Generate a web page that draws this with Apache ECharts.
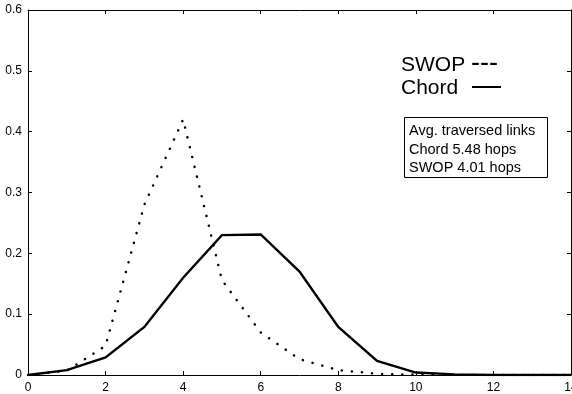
<!DOCTYPE html>
<html>
<head>
<meta charset="utf-8">
<script src="https://cdn.jsdelivr.net/npm/echarts@6/dist/echarts.min.js"></script>
<style>
  html, body { margin: 0; padding: 0; background: #fff; }
  #chart { width: 572px; height: 394px; }
</style>
</head>
<body>
<div id="chart"></div>
<script>
// Hop count (x) and fraction of lookups needing that many hops
const hops = [0, 1, 2, 3, 4, 5, 6, 7, 8, 9, 10, 11, 12, 13, 14];
const chordFraction = [0, 0.008, 0.029, 0.079, 0.160, 0.230, 0.231, 0.170, 0.079, 0.023, 0.004, 0.001, 0, 0, 0];
const swopFraction  = [0, 0.007, 0.048, 0.280, 0.420, 0.156, 0.070, 0.026, 0.008, 0.002, 0.0005, 0, 0, 0, 0];

const yTicks = [0, 0.1, 0.2, 0.3, 0.4, 0.5, 0.6];
const xTicks = [0, 2, 4, 6, 8, 10, 12, 14];

const legendNames = ['SWOP', 'Chord'];
const legendKeys = ['---', '—'];
const noteLines = ['Avg. traversed links', 'Chord 5.48 hops', 'SWOP 4.01 hops'];

const FONT = 'Liberation Sans, Arial, Helvetica, sans-serif';

const chart = echarts.init(document.getElementById('chart'), null, { renderer: 'canvas' });

const frameLine = { show: true, onZero: false, lineStyle: { color: '#000', width: 1 } };
const innerTick = { show: true, inside: true, length: 4, lineStyle: { color: '#000', width: 1 } };

const pairs = (ys) => hops.map((x, i) => [x, ys[i]]);

chart.setOption({
  animation: false,
  backgroundColor: '#fff',
  grid: { left: 28, top: 10, right: 1, bottom: 19, containLabel: false, outerBoundsMode: 'none' },
  xAxis: [
    {
      type: 'value', min: xTicks[0], max: xTicks[xTicks.length - 1], interval: 2,
      position: 'bottom',
      axisLine: frameLine, axisTick: innerTick, splitLine: { show: false },
      axisLabel: { color: '#000', fontSize: 12, fontFamily: FONT, margin: 7, showMaxLabel: true, hideOverlap: false }
    },
    {
      type: 'value', min: xTicks[0], max: xTicks[xTicks.length - 1], interval: 2,
      position: 'top',
      axisLine: frameLine, axisTick: innerTick, splitLine: { show: false },
      axisLabel: { show: false }
    }
  ],
  yAxis: [
    {
      type: 'value', min: yTicks[0], max: yTicks[yTicks.length - 1], interval: 0.1,
      position: 'left',
      axisLine: frameLine, axisTick: innerTick, splitLine: { show: false },
      axisLabel: {
        color: '#000', fontSize: 12, fontFamily: FONT, margin: 6,
        formatter: (v) => (v === 0 ? '0' : v.toFixed(1))
      }
    },
    {
      type: 'value', min: yTicks[0], max: yTicks[yTicks.length - 1], interval: 0.1,
      position: 'right',
      axisLine: frameLine, axisTick: innerTick, splitLine: { show: false },
      axisLabel: { show: false }
    }
  ],
  series: [
    {
      name: 'Chord',
      type: 'line',
      data: pairs(chordFraction),
      showSymbol: false,
      lineStyle: { color: '#000', width: 2.4, join: 'miter' },
      z: 3
    },
    {
      name: 'SWOP',
      type: 'line',
      data: pairs(swopFraction),
      showSymbol: false,
      lineStyle: { color: '#000', width: 2.5, type: [0.1, 10], cap: 'round' },
      z: 2
    }
  ],
  graphic: [
    {
      type: 'text', left: 401, top: 55,
      style: { text: legendNames[0], font: '21px ' + FONT, fill: '#000' }
    },
    {
      type: 'text', left: 471, top: 50,
      style: { text: legendKeys[0], font: '27px ' + FONT, fill: '#000' }
    },
    {
      type: 'text', left: 401, top: 78,
      style: { text: legendNames[1], font: '21px ' + FONT, fill: '#000' }
    },
    {
      type: 'text', left: 472, top: 72,
      style: { text: legendKeys[1], font: '29px ' + FONT, fill: '#000' }
    },
    {
      type: 'rect', left: 404, top: 117,
      shape: { width: 143, height: 60 },
      style: { fill: '#fff', stroke: '#000', lineWidth: 1 }
    },
    {
      type: 'text', left: 409, top: 122,
      style: { text: noteLines.join('\n'), font: '14.5px ' + FONT, lineHeight: 18.5, fill: '#000' }
    }
  ]
});
</script>
</body>
</html>
